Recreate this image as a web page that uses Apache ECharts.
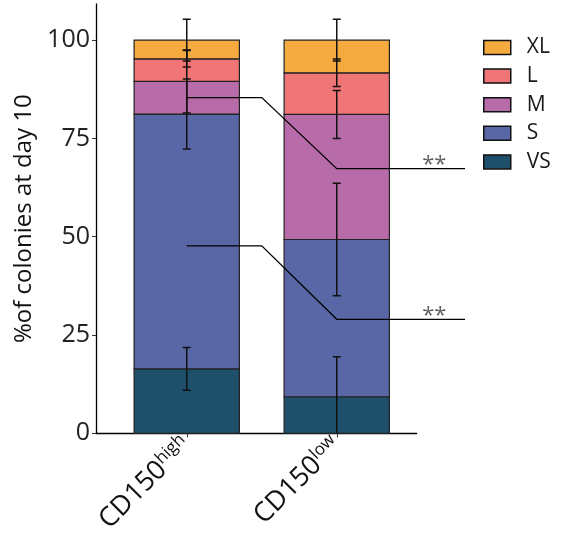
<!DOCTYPE html>
<html>
<head>
<meta charset="utf-8">
<script src="https://cdn.jsdelivr.net/npm/echarts@6/dist/echarts.min.js"></script>
<style>html,body{margin:0;padding:0;background:#fff;}#c{width:563px;height:542px;}</style>
</head>
<body>
<div id="c"></div>
<script>
// ---- data ----
var categories = ['CD150high', 'CD150low'];
var catSup = ['high', 'low'];
var catPos = [1, 2];
var sizes = ['VS', 'S', 'M', 'L', 'XL'];
var VS = [16.4, 9.3];
var S = [64.8, 40.0];
var M = [8.3, 31.8];
var L = [5.75, 10.6];
var XL = [4.75, 8.3];
var VS_sd = [5.45, 10.2];
var S_sd = [8.9, 14.3];
var M_sd = [8.0, 6.1];
var L_sd = [2.1, 3.5];
var XL_sd = [5.3, 5.3];
var yTicks = [0, 25, 50, 75, 100];
// significance brackets: [y at CD150high, y at CD150low]
var sigM = [85.4, 67.3];
var sigS = [47.7, 29.0];
var sigLabel = '**';

var colors = {VS: '#1E4F6B', S: '#5A67A6', M: '#B86BA9', L: '#F07577', XL: '#F5AA40'};
var values = {VS: VS, S: S, M: M, L: L, XL: XL};
var sds = {VS: VS_sd, S: S_sd, M: M_sd, L: L_sd, XL: XL_sd};
var barW = 0.702;

var series = [];
var cum = [0, 0];
var errData = [];
sizes.forEach(function (k) {
  var vals = values[k];
  var data = vals.map(function (v, i) { return [catPos[i], cum[i], v]; });
  series.push({
    name: k, type: 'custom', z: 2,
    itemStyle: {color: colors[k], borderColor: '#222', borderWidth: 1.2},
    data: data,
    renderItem: (function (col) {
      return function (params, api) {
        var x = api.value(0), b = api.value(1), v = api.value(2);
        var p0 = api.coord([x - barW / 2, b + v]);
        var p1 = api.coord([x + barW / 2, b]);
        return {type: 'rect', shape: {x: p0[0], y: p0[1], width: p1[0] - p0[0], height: p1[1] - p0[1]},
          style: {fill: col, stroke: '#222', lineWidth: 1.2}};
      };
    })(colors[k])
  });
  vals.forEach(function (v, i) {
    cum[i] += v;
    errData.push([catPos[i], cum[i], sds[k][i]]);
  });
});

series.push({
  type: 'custom', clip: true, z: 5, silent: true,
  data: errData,
  renderItem: function (params, api) {
    var x = api.value(0), c = api.value(1), sd = api.value(2);
    var top = api.coord([x, c + sd]);
    var bot = api.coord([x, c - sd]);
    var hw = 4;
    var st = {stroke: '#111', lineWidth: 1.5};
    return {type: 'group', children: [
      {type: 'line', shape: {x1: top[0], y1: top[1], x2: bot[0], y2: bot[1]}, style: st},
      {type: 'line', shape: {x1: top[0] - hw, y1: top[1], x2: top[0] + hw, y2: top[1]}, style: st},
      {type: 'line', shape: {x1: bot[0] - hw, y1: bot[1], x2: bot[0] + hw, y2: bot[1]}, style: st}
    ]};
  }
});

var xEnd = 2.855, xMid = 1.5, xLab = 2.65;
[sigM, sigS].forEach(function (s) {
  var pts = [[catPos[0], s[0]], [xMid, s[0]], [catPos[1], s[1]], [xEnd, s[1]]];
  series.push({
    type: 'custom', clip: false, z: 6, silent: true,
    data: [0],
    renderItem: function (params, api) {
      return {type: 'polyline', shape: {points: pts.map(function (p) { return api.coord(p); })},
        style: {stroke: '#000', lineWidth: 1.3, fill: null}};
    }
  });
  series.push({
    type: 'scatter', clip: false, symbolSize: 0, z: 6, silent: true,
    label: {show: true, position: 'top', distance: -7, formatter: sigLabel,
      fontSize: 22, color: '#3a3a3a', fontFamily: 'Open Sans'},
    data: [[xLab, s[1]]]
  });
});

var chart = echarts.init(document.getElementById('c'));
chart.setOption({
  animation: false,
  textStyle: {fontFamily: 'Open Sans'},
  grid: {left: 96, top: 4, right: 146.3, bottom: 108.7, containLabel: false},
  legend: {
    data: ['XL', 'L', 'M', 'S', 'VS'], orient: 'vertical', left: 478, top: 32,
    icon: 'rect', itemWidth: 27, itemHeight: 14, itemGap: 7.6,
    itemStyle: {borderColor: '#111', borderWidth: 1.5},
    textStyle: {fontSize: 21, color: '#1a1a1a', padding: [0, 0, 0, 11]}
  },
  xAxis: {
    type: 'value', min: 0.395, max: 2.533,
    splitLine: {show: false},
    axisLine: {show: true, lineStyle: {color: '#000', width: 1.3}},
    axisTick: {show: true, customValues: catPos, length: 4, lineStyle: {color: '#333'}},
    axisLabel: {
      customValues: catPos, rotate: 45, margin: 8, color: '#111',
      formatter: function (v) {
        var i = catPos.indexOf(v);
        return '{a|' + categories[i].replace(catSup[i], '') + '}{b|' + catSup[i] + '}';
      },
      rich: {
        a: {fontSize: 27, color: '#111', fontFamily: 'Open Sans'},
        b: {fontSize: 17, color: '#111', fontFamily: 'Open Sans', verticalAlign: 'top', padding: [0, 0, 12, 0]}
      }
    }
  },
  yAxis: {
    type: 'value', min: 0, max: 109.2,
    name: '%of colonies at day 10', nameLocation: 'middle', nameGap: 54,
    nameTextStyle: {fontSize: 24, color: '#111', fontFamily: 'Open Sans'},
    splitLine: {show: false},
    axisLine: {show: true, lineStyle: {color: '#000', width: 1.3}},
    axisTick: {show: true, customValues: yTicks, length: 4, lineStyle: {color: '#333'}},
    axisLabel: {customValues: yTicks, fontSize: 25, color: '#222', margin: 6}
  },
  series: series
});
</script>
</body>
</html>
